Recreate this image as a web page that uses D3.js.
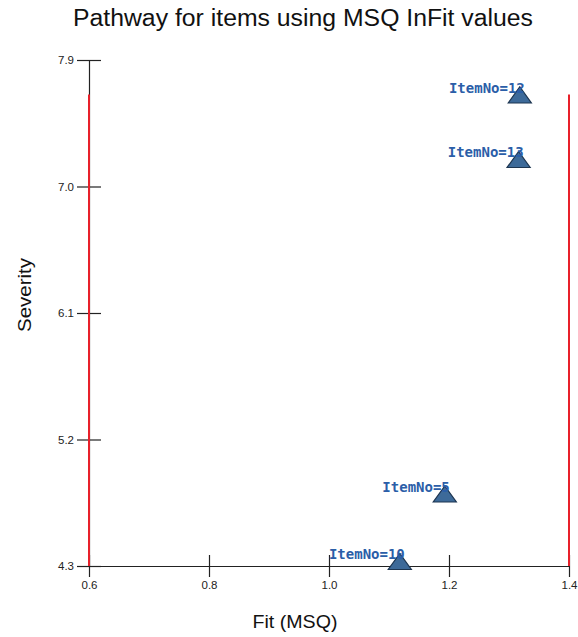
<!DOCTYPE html>
<html>
<head>
<meta charset="utf-8">
<script src="https://cdn.jsdelivr.net/npm/d3@7"></script>
<style>
  html, body { margin: 0; padding: 0; background: #fff; }
  svg { display: block; }
</style>
</head>
<body>
<svg id="chart" width="578" height="637"></svg>
<script>
// Item fit (MSQ InFit) versus severity
const items = ["12", "13", "5", "10"];
const fitMSQ = [1.318, 1.316, 1.193, 1.118];
const severity = [7.64, 7.18, 4.80, 4.32];

const xTicks = [0.6, 0.8, 1.0, 1.2, 1.4];
const yTicks = [4.3, 5.2, 6.1, 7.0, 7.9];
const fitBounds = [0.6, 1.4];

const svg = d3.select("#chart");
const x = d3.scaleLinear().domain([0.6, 1.4]).range([89, 569]);
const y = d3.scaleLinear().domain([4.3, 7.9]).range([566, 60]);
const sans = "Liberation Sans, Arial, sans-serif";

// Title
svg.append("text")
  .attr("x", 303).attr("y", 26)
  .attr("text-anchor", "middle")
  .attr("font-family", sans)
  .attr("font-size", 23)
  .attr("textLength", 460).attr("lengthAdjust", "spacingAndGlyphs")
  .attr("fill", "#111")
  .text("Pathway for items using MSQ InFit values");

// Axes with ticks crossing the axis line
const xAxis = d3.axisBottom(x).tickValues(xTicks).tickFormat(d3.format(".1f"))
  .tickSizeInner(11).tickSizeOuter(0).tickPadding(4);
const gx = svg.append("g").attr("transform", `translate(0,${y(4.3)})`).call(xAxis);
gx.selectAll(".tick line").attr("y1", -11);

const yAxis = d3.axisLeft(y).tickValues(yTicks).tickFormat(d3.format(".1f"))
  .tickSizeInner(12).tickSizeOuter(0).tickPadding(3);
const gy = svg.append("g").attr("transform", `translate(${x(0.6)},0)`).call(yAxis);
gy.selectAll(".tick line").attr("x1", 12);

[gx, gy].forEach(g => {
  g.select(".domain").attr("stroke", "#222").attr("stroke-width", 1.2);
  g.selectAll(".tick line").attr("stroke", "#222").attr("stroke-width", 1.2);
  g.selectAll(".tick text")
    .attr("font-family", sans)
    .attr("font-size", 11.5).attr("fill", "#222");
});

// Fit bounds drawn across the severity range of the items
const sevExtent = [4.3, d3.max(severity)];
svg.append("g").selectAll("line").data(fitBounds).join("line")
  .attr("x1", d => x(d)).attr("x2", d => x(d))
  .attr("y1", y(sevExtent[0])).attr("y2", y(sevExtent[1]) - 2)
  .attr("stroke", "#e8202a").attr("stroke-width", 2);

// Axis titles
svg.append("text")
  .attr("x", 295).attr("y", 628)
  .attr("text-anchor", "middle")
  .attr("font-family", sans)
  .attr("font-size", 18)
  .attr("textLength", 85).attr("lengthAdjust", "spacingAndGlyphs")
  .attr("fill", "#111")
  .text("Fit (MSQ)");
svg.append("text")
  .attr("transform", "translate(31,295) rotate(-90)")
  .attr("text-anchor", "middle")
  .attr("font-family", sans)
  .attr("font-size", 18)
  .attr("textLength", 74).attr("lengthAdjust", "spacingAndGlyphs")
  .attr("fill", "#111")
  .text("Severity");

// Points, then labels on top
const tri = d3.symbol().type(d3.symbolTriangle).size(150);
const pts = svg.append("g").selectAll("g").data(items).join("g")
  .attr("transform", (d, i) => `translate(${x(fitMSQ[i])},${y(severity[i])})`);
pts.append("path")
  .attr("d", tri)
  .attr("transform", "translate(0,1) scale(1.25,1)")
  .attr("fill", "#3d6a99")
  .attr("stroke", "#1d3550")
  .attr("stroke-width", 1);
pts.append("text")
  .attr("x", 5).attr("y", -4)
  .attr("text-anchor", "end")
  .attr("font-family", "DejaVu Sans Mono, monospace")
  .attr("font-weight", "bold")
  .attr("font-size", 14)
  .attr("fill", "#2b5ea8")
  .text(d => "ItemNo=" + d);
</script>
</body>
</html>
